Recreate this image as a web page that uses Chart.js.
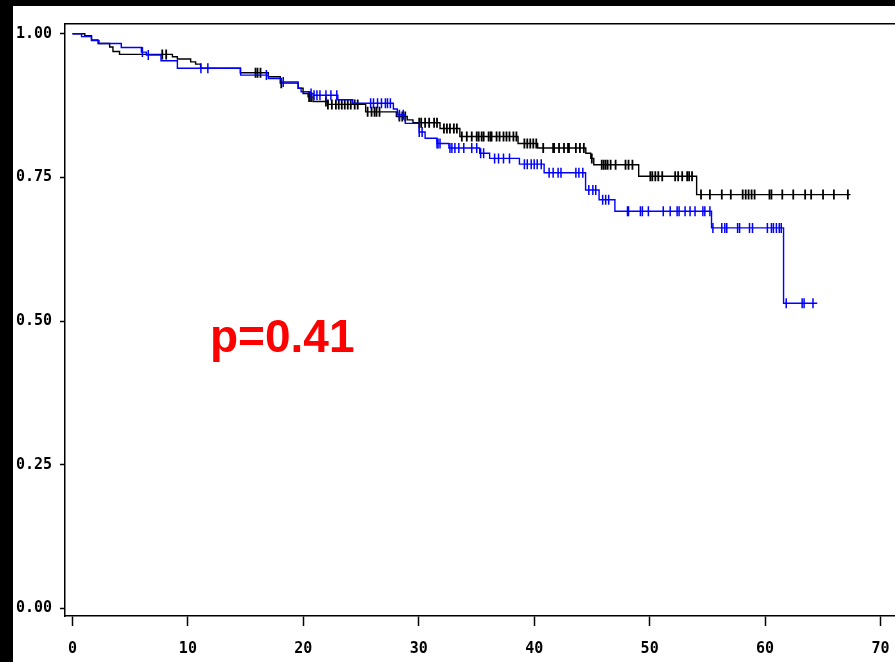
<!DOCTYPE html>
<html>
<head>
<meta charset="utf-8">
<script src="https://cdn.jsdelivr.net/npm/chart.js@4/dist/chart.umd.min.js"></script>
<style>
  html, body { margin: 0; padding: 0; background: #000; width: 895px; height: 662px; overflow: hidden; }
  #frame { position: absolute; left: 13px; top: 6px; width: 910px; height: 656px; background: #fff; }
  #c { position: absolute; left: 0; top: 0; }
  #pval { position: absolute; left: 210px; top: 313px; font-family: "Liberation Sans", Arial, sans-serif;
          font-weight: bold; font-size: 46px; line-height: 1; color: #ff0000; white-space: nowrap; }
</style>
</head>
<body>
<div id="frame">
  <canvas id="c" width="910" height="656"></canvas>
</div>
<div id="pval">p=0.41</div>
<script>
// ---- Data (time in months, survival probability) ----
const xTickValues = [0, 10, 20, 30, 40, 50, 60, 70];
const yTickLabels = ['0.00', '0.25', '0.50', '0.75', '1.00'];

// Black group: event times and survival after each step
const blackTimes = [0, 1.07, 1.65, 2.22, 3.22, 3.51, 4.08, 8.66, 9.09, 10.24, 10.67, 11.10, 14.54, 16.97, 18.0,
  19.55, 19.98, 20.41, 20.84, 22.13, 25.4, 28.06, 29.0, 29.5, 31.84, 33.56, 38.6, 40.3, 44.47, 44.9, 45.16,
  49.05, 54.07, 67.4];
const blackSurv = [1.0, 0.9965, 0.989, 0.983, 0.977, 0.969, 0.964, 0.960, 0.956, 0.951, 0.947, 0.940, 0.932, 0.925, 0.914,
  0.905, 0.896, 0.890, 0.882, 0.877, 0.864, 0.856, 0.850, 0.845, 0.835, 0.821, 0.809, 0.801, 0.792, 0.783, 0.772,
  0.752, 0.720, 0.720];
const blackCensor = [7.78, 8.12, 15.86, 16.03, 16.29, 18.09, 20.50, 20.67, 21.96, 22.13, 22.47, 22.82, 23.07, 23.33,
  23.59, 23.85, 24.11, 24.45, 24.71, 25.57, 25.91, 26.17, 26.34, 26.60, 28.32, 28.57, 28.83, 30.04, 30.21, 30.55,
  30.90, 31.33, 31.58, 32.18, 32.44, 32.70, 33.04, 33.30, 33.73, 34.16, 34.59, 35.02, 35.19, 35.45, 35.62, 36.05,
  36.22, 36.31, 36.74, 37.0, 37.34, 37.60, 37.86, 38.20, 38.46, 39.15, 39.40, 39.66, 39.92, 40.18, 40.78, 41.64,
  41.72, 42.15, 42.58, 42.93, 43.01, 43.61, 43.96, 44.30, 44.99, 45.85, 46.02, 46.19, 46.36, 46.62, 47.05, 47.91,
  48.17, 48.51, 50.06, 50.23, 50.49, 50.75, 51.09, 52.21, 52.47, 52.82, 53.25, 53.42, 53.67, 54.45, 55.22, 56.25,
  57.03, 58.06, 58.32, 58.57, 58.83, 59.09, 60.38, 60.55, 61.49, 62.44, 63.47, 63.99, 65.02, 65.96, 67.17];

// Blue group
const blueTimes = [0, 0.79, 1.65, 2.30, 4.23, 5.97, 6.4, 7.67, 9.09, 14.57, 16.97, 18.09, 19.55, 19.81, 20.58, 20.84,
  22.99, 24.28, 27.8, 28.14, 28.83, 30.04, 30.55, 31.58, 32.61, 35.28, 36.14, 38.72, 40.86, 44.45, 45.62, 46.99,
  55.36, 61.6, 64.52];
const blueSurv = [1.0, 0.995, 0.988, 0.983, 0.976, 0.968, 0.963, 0.953, 0.940, 0.928, 0.922, 0.916, 0.905, 0.899, 0.896, 0.893,
  0.885, 0.879, 0.869, 0.859, 0.844, 0.829, 0.818, 0.809, 0.801, 0.792, 0.783, 0.773, 0.758, 0.728, 0.711, 0.691,
  0.662, 0.531, 0.531];
const blueCensor = [6.06, 6.57, 11.13, 11.73, 16.80, 18.26, 20.67, 20.93, 21.18, 21.44, 21.96, 22.39, 22.90, 25.83,
  26.08, 26.43, 26.77, 27.11, 27.29, 27.54, 28.32, 28.66, 30.04, 30.29, 31.58, 31.67, 31.84, 32.70, 32.87, 33.13,
  33.47, 33.90, 34.59, 35.02, 35.36, 35.62, 36.57, 36.91, 37.34, 37.86, 39.15, 39.40, 39.74, 40.0, 40.26, 40.61,
  41.29, 41.64, 42.07, 42.32, 43.61, 43.87, 44.21, 44.73, 45.08, 45.33, 45.93, 46.19, 46.45, 48.08, 48.17, 49.20,
  49.37, 49.89, 51.18, 51.78, 52.38, 52.55, 53.07, 53.50, 53.93, 54.61, 54.78, 55.22, 55.48, 56.25, 56.51, 56.68,
  57.62, 57.79, 58.65, 58.91, 60.20, 60.55, 60.72, 60.98, 61.23, 61.40, 61.83, 63.21, 63.38, 64.15];

// ---- Build datasets ----
function stepPoints(times, surv) {
  return times.map((t, i) => ({ x: t, y: surv[i] }));
}
function survAt(times, surv, t) {
  let s = surv[0];
  for (let i = 0; i < times.length; i++) { if (times[i] <= t) s = surv[i]; }
  return s;
}
function censorPoints(times, surv, cens) {
  return cens.map(t => ({ x: t, y: survAt(times, surv, t) }));
}

const monoFont = { family: '"DejaVu Sans Mono", "Liberation Mono", monospace', size: 15, weight: 'bold' };

new Chart(document.getElementById('c'), {
  data: {
    datasets: [
      { type: 'line', label: 'blue', data: stepPoints(blueTimes, blueSurv), stepped: 'before',
        borderColor: '#0000ff', borderWidth: 1.4, pointRadius: 0, fill: false, order: 1 },
      { type: 'scatter', label: 'blue censored', data: censorPoints(blueTimes, blueSurv, blueCensor),
        pointStyle: 'line', rotation: 90, pointRadius: 5, borderColor: '#0000ff', backgroundColor: '#0000ff',
        pointBorderWidth: 1.5, showLine: false, order: 0 },
      { type: 'line', label: 'black', data: stepPoints(blackTimes, blackSurv), stepped: 'before',
        borderColor: '#000000', borderWidth: 1.4, pointRadius: 0, fill: false, order: 3 },
      { type: 'scatter', label: 'black censored', data: censorPoints(blackTimes, blackSurv, blackCensor),
        pointStyle: 'line', rotation: 90, pointRadius: 5, borderColor: '#000000', backgroundColor: '#000000',
        pointBorderWidth: 1.8, showLine: false, order: 2 }
    ]
  },
  options: {
    responsive: false,
    animation: false,
    devicePixelRatio: 1,
    layout: { padding: 0 },
    plugins: { legend: { display: false }, tooltip: { enabled: false } },
    scales: {
      x: {
        type: 'linear', position: 'bottom', min: -0.645, max: 73.09,
        afterFit: s => { s.height = 46; },
        ticks: { stepSize: 10, includeBounds: false, autoSkip: false, maxRotation: 0, color: '#000',
                 font: monoFont, padding: 14,
                 callback: v => (xTickValues.includes(v) ? String(v) : '') },
        grid: { display: true, drawOnChartArea: false, drawTicks: true, tickLength: 10, tickColor: '#000', tickWidth: 1.5 },
        border: { display: true, color: '#000', width: 1.5 }
      },
      xTop: {
        type: 'linear', position: 'top', min: -0.645, max: 73.09, display: true,
        afterFit: s => { s.height = 18; },
        ticks: { display: false },
        grid: { display: false, drawTicks: false },
        border: { display: true, color: '#000', width: 1.5 }
      },
      y: {
        type: 'linear', position: 'left', min: -0.0134, max: 1.0169,
        afterFit: s => { s.width = 52; },
        ticks: { stepSize: 0.25, includeBounds: false, color: '#000', font: monoFont, padding: 8,
                 callback: v => yTickLabels[Math.round(v / 0.25)] },
        grid: { display: true, drawOnChartArea: false, drawTicks: true, tickLength: 5, tickColor: '#000', tickWidth: 1.5 },
        border: { display: true, color: '#000', width: 1.5 }
      }
    }
  }
});
</script>
</body>
</html>
